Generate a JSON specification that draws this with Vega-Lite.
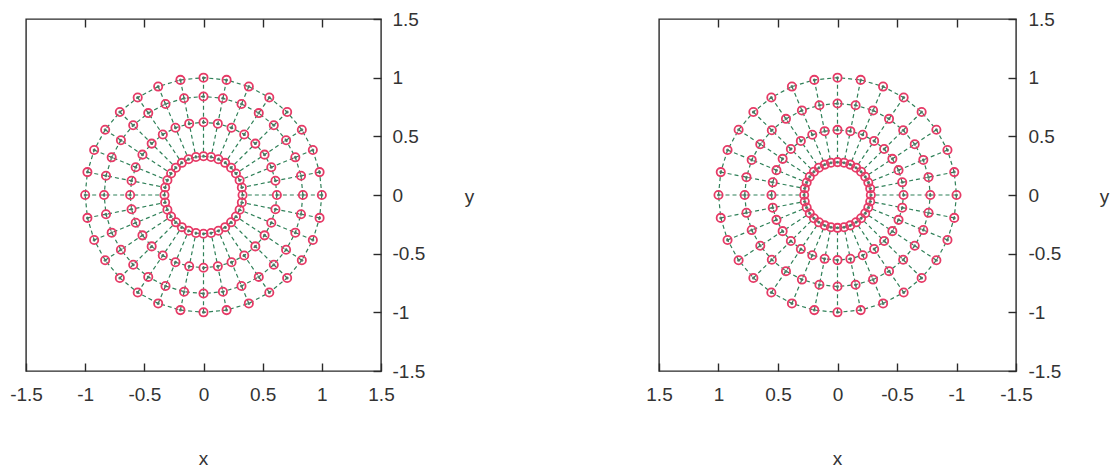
{
  "$schema": "https://vega.github.io/schema/vega-lite/v6.json",
  "background": "white",
  "padding": {"left": 8, "top": 9, "right": 5, "bottom": 5},
  "bounds": "flush",
  "spacing": 278,
  "config": {
    "view": {"stroke": "#2a2a2a", "strokeWidth": 1.4},
    "font": "Liberation Sans",
    "axis": {
      "labelFont": "Liberation Sans",
      "labelFontSize": 19,
      "labelColor": "#333333",
      "titleFont": "Liberation Sans",
      "titleFontSize": 19,
      "titleFontWeight": "normal",
      "titleColor": "#333333",
      "grid": false,
      "domain": false,
      "tickColor": "#2a2a2a",
      "tickWidth": 1.4,
      "tickSize": -8,
      "labelFlush": false,
      "labelOverlap": false
    }
  },
  "datasets": {
    "left": [
      {"r":1,"k":0,"x":1,"y":0},{"r":1,"k":1,"x":0.981,"y":0.195},{"r":1,"k":2,"x":0.924,"y":0.383},{"r":1,"k":3,"x":0.831,"y":0.556},
      {"r":1,"k":4,"x":0.707,"y":0.707},{"r":1,"k":5,"x":0.556,"y":0.831},{"r":1,"k":6,"x":0.383,"y":0.924},{"r":1,"k":7,"x":0.195,"y":0.981},
      {"r":1,"k":8,"x":0,"y":1},{"r":1,"k":9,"x":-0.195,"y":0.981},{"r":1,"k":10,"x":-0.383,"y":0.924},{"r":1,"k":11,"x":-0.556,"y":0.831},
      {"r":1,"k":12,"x":-0.707,"y":0.707},{"r":1,"k":13,"x":-0.831,"y":0.556},{"r":1,"k":14,"x":-0.924,"y":0.383},{"r":1,"k":15,"x":-0.981,"y":0.195},
      {"r":1,"k":16,"x":-1,"y":0},{"r":1,"k":17,"x":-0.981,"y":-0.195},{"r":1,"k":18,"x":-0.924,"y":-0.383},{"r":1,"k":19,"x":-0.831,"y":-0.556},
      {"r":1,"k":20,"x":-0.707,"y":-0.707},{"r":1,"k":21,"x":-0.556,"y":-0.831},{"r":1,"k":22,"x":-0.383,"y":-0.924},{"r":1,"k":23,"x":-0.195,"y":-0.981},
      {"r":1,"k":24,"x":0,"y":-1},{"r":1,"k":25,"x":0.195,"y":-0.981},{"r":1,"k":26,"x":0.383,"y":-0.924},{"r":1,"k":27,"x":0.556,"y":-0.831},
      {"r":1,"k":28,"x":0.707,"y":-0.707},{"r":1,"k":29,"x":0.831,"y":-0.556},{"r":1,"k":30,"x":0.924,"y":-0.383},{"r":1,"k":31,"x":0.981,"y":-0.195},

      {"r":2,"k":0,"x":0.84,"y":0},{"r":2,"k":1,"x":0.824,"y":0.164},{"r":2,"k":2,"x":0.776,"y":0.321},{"r":2,"k":3,"x":0.698,"y":0.467},
      {"r":2,"k":4,"x":0.594,"y":0.594},{"r":2,"k":5,"x":0.467,"y":0.698},{"r":2,"k":6,"x":0.321,"y":0.776},{"r":2,"k":7,"x":0.164,"y":0.824},
      {"r":2,"k":8,"x":0,"y":0.84},{"r":2,"k":9,"x":-0.164,"y":0.824},{"r":2,"k":10,"x":-0.321,"y":0.776},{"r":2,"k":11,"x":-0.467,"y":0.698},
      {"r":2,"k":12,"x":-0.594,"y":0.594},{"r":2,"k":13,"x":-0.698,"y":0.467},{"r":2,"k":14,"x":-0.776,"y":0.321},{"r":2,"k":15,"x":-0.824,"y":0.164},
      {"r":2,"k":16,"x":-0.84,"y":0},{"r":2,"k":17,"x":-0.824,"y":-0.164},{"r":2,"k":18,"x":-0.776,"y":-0.321},{"r":2,"k":19,"x":-0.698,"y":-0.467},
      {"r":2,"k":20,"x":-0.594,"y":-0.594},{"r":2,"k":21,"x":-0.467,"y":-0.698},{"r":2,"k":22,"x":-0.321,"y":-0.776},{"r":2,"k":23,"x":-0.164,"y":-0.824},
      {"r":2,"k":24,"x":0,"y":-0.84},{"r":2,"k":25,"x":0.164,"y":-0.824},{"r":2,"k":26,"x":0.321,"y":-0.776},{"r":2,"k":27,"x":0.467,"y":-0.698},
      {"r":2,"k":28,"x":0.594,"y":-0.594},{"r":2,"k":29,"x":0.698,"y":-0.467},{"r":2,"k":30,"x":0.776,"y":-0.321},{"r":2,"k":31,"x":0.824,"y":-0.164},

      {"r":3,"k":0,"x":0.62,"y":0},{"r":3,"k":1,"x":0.608,"y":0.121},{"r":3,"k":2,"x":0.573,"y":0.237},{"r":3,"k":3,"x":0.516,"y":0.344},
      {"r":3,"k":4,"x":0.438,"y":0.438},{"r":3,"k":5,"x":0.344,"y":0.516},{"r":3,"k":6,"x":0.237,"y":0.573},{"r":3,"k":7,"x":0.121,"y":0.608},
      {"r":3,"k":8,"x":0,"y":0.62},{"r":3,"k":9,"x":-0.121,"y":0.608},{"r":3,"k":10,"x":-0.237,"y":0.573},{"r":3,"k":11,"x":-0.344,"y":0.516},
      {"r":3,"k":12,"x":-0.438,"y":0.438},{"r":3,"k":13,"x":-0.516,"y":0.344},{"r":3,"k":14,"x":-0.573,"y":0.237},{"r":3,"k":15,"x":-0.608,"y":0.121},
      {"r":3,"k":16,"x":-0.62,"y":0},{"r":3,"k":17,"x":-0.608,"y":-0.121},{"r":3,"k":18,"x":-0.573,"y":-0.237},{"r":3,"k":19,"x":-0.516,"y":-0.344},
      {"r":3,"k":20,"x":-0.438,"y":-0.438},{"r":3,"k":21,"x":-0.344,"y":-0.516},{"r":3,"k":22,"x":-0.237,"y":-0.573},{"r":3,"k":23,"x":-0.121,"y":-0.608},
      {"r":3,"k":24,"x":0,"y":-0.62},{"r":3,"k":25,"x":0.121,"y":-0.608},{"r":3,"k":26,"x":0.237,"y":-0.573},{"r":3,"k":27,"x":0.344,"y":-0.516},
      {"r":3,"k":28,"x":0.438,"y":-0.438},{"r":3,"k":29,"x":0.516,"y":-0.344},{"r":3,"k":30,"x":0.573,"y":-0.237},{"r":3,"k":31,"x":0.608,"y":-0.121},

      {"r":4,"k":0,"x":0.33,"y":0},{"r":4,"k":1,"x":0.324,"y":0.064},{"r":4,"k":2,"x":0.305,"y":0.126},{"r":4,"k":3,"x":0.274,"y":0.183},
      {"r":4,"k":4,"x":0.233,"y":0.233},{"r":4,"k":5,"x":0.183,"y":0.274},{"r":4,"k":6,"x":0.126,"y":0.305},{"r":4,"k":7,"x":0.064,"y":0.324},
      {"r":4,"k":8,"x":0,"y":0.33},{"r":4,"k":9,"x":-0.064,"y":0.324},{"r":4,"k":10,"x":-0.126,"y":0.305},{"r":4,"k":11,"x":-0.183,"y":0.274},
      {"r":4,"k":12,"x":-0.233,"y":0.233},{"r":4,"k":13,"x":-0.274,"y":0.183},{"r":4,"k":14,"x":-0.305,"y":0.126},{"r":4,"k":15,"x":-0.324,"y":0.064},
      {"r":4,"k":16,"x":-0.33,"y":0},{"r":4,"k":17,"x":-0.324,"y":-0.064},{"r":4,"k":18,"x":-0.305,"y":-0.126},{"r":4,"k":19,"x":-0.274,"y":-0.183},
      {"r":4,"k":20,"x":-0.233,"y":-0.233},{"r":4,"k":21,"x":-0.183,"y":-0.274},{"r":4,"k":22,"x":-0.126,"y":-0.305},{"r":4,"k":23,"x":-0.064,"y":-0.324},
      {"r":4,"k":24,"x":0,"y":-0.33},{"r":4,"k":25,"x":0.064,"y":-0.324},{"r":4,"k":26,"x":0.126,"y":-0.305},{"r":4,"k":27,"x":0.183,"y":-0.274},
      {"r":4,"k":28,"x":0.233,"y":-0.233},{"r":4,"k":29,"x":0.274,"y":-0.183},{"r":4,"k":30,"x":0.305,"y":-0.126},{"r":4,"k":31,"x":0.324,"y":-0.064}
    ],
    "right": [
      {"r":1,"k":0,"x":1,"y":0},{"r":1,"k":1,"x":0.981,"y":0.195},{"r":1,"k":2,"x":0.924,"y":0.383},{"r":1,"k":3,"x":0.831,"y":0.556},
      {"r":1,"k":4,"x":0.707,"y":0.707},{"r":1,"k":5,"x":0.556,"y":0.831},{"r":1,"k":6,"x":0.383,"y":0.924},{"r":1,"k":7,"x":0.195,"y":0.981},
      {"r":1,"k":8,"x":0,"y":1},{"r":1,"k":9,"x":-0.195,"y":0.981},{"r":1,"k":10,"x":-0.383,"y":0.924},{"r":1,"k":11,"x":-0.556,"y":0.831},
      {"r":1,"k":12,"x":-0.707,"y":0.707},{"r":1,"k":13,"x":-0.831,"y":0.556},{"r":1,"k":14,"x":-0.924,"y":0.383},{"r":1,"k":15,"x":-0.981,"y":0.195},
      {"r":1,"k":16,"x":-1,"y":0},{"r":1,"k":17,"x":-0.981,"y":-0.195},{"r":1,"k":18,"x":-0.924,"y":-0.383},{"r":1,"k":19,"x":-0.831,"y":-0.556},
      {"r":1,"k":20,"x":-0.707,"y":-0.707},{"r":1,"k":21,"x":-0.556,"y":-0.831},{"r":1,"k":22,"x":-0.383,"y":-0.924},{"r":1,"k":23,"x":-0.195,"y":-0.981},
      {"r":1,"k":24,"x":0,"y":-1},{"r":1,"k":25,"x":0.195,"y":-0.981},{"r":1,"k":26,"x":0.383,"y":-0.924},{"r":1,"k":27,"x":0.556,"y":-0.831},
      {"r":1,"k":28,"x":0.707,"y":-0.707},{"r":1,"k":29,"x":0.831,"y":-0.556},{"r":1,"k":30,"x":0.924,"y":-0.383},{"r":1,"k":31,"x":0.981,"y":-0.195},

      {"r":2,"k":0,"x":0.78,"y":0},{"r":2,"k":1,"x":0.765,"y":0.152},{"r":2,"k":2,"x":0.721,"y":0.299},{"r":2,"k":3,"x":0.649,"y":0.433},
      {"r":2,"k":4,"x":0.552,"y":0.552},{"r":2,"k":5,"x":0.433,"y":0.649},{"r":2,"k":6,"x":0.299,"y":0.721},{"r":2,"k":7,"x":0.152,"y":0.765},
      {"r":2,"k":8,"x":0,"y":0.78},{"r":2,"k":9,"x":-0.152,"y":0.765},{"r":2,"k":10,"x":-0.299,"y":0.721},{"r":2,"k":11,"x":-0.433,"y":0.649},
      {"r":2,"k":12,"x":-0.552,"y":0.552},{"r":2,"k":13,"x":-0.649,"y":0.433},{"r":2,"k":14,"x":-0.721,"y":0.299},{"r":2,"k":15,"x":-0.765,"y":0.152},
      {"r":2,"k":16,"x":-0.78,"y":0},{"r":2,"k":17,"x":-0.765,"y":-0.152},{"r":2,"k":18,"x":-0.721,"y":-0.299},{"r":2,"k":19,"x":-0.649,"y":-0.433},
      {"r":2,"k":20,"x":-0.552,"y":-0.552},{"r":2,"k":21,"x":-0.433,"y":-0.649},{"r":2,"k":22,"x":-0.299,"y":-0.721},{"r":2,"k":23,"x":-0.152,"y":-0.765},
      {"r":2,"k":24,"x":0,"y":-0.78},{"r":2,"k":25,"x":0.152,"y":-0.765},{"r":2,"k":26,"x":0.299,"y":-0.721},{"r":2,"k":27,"x":0.433,"y":-0.649},
      {"r":2,"k":28,"x":0.552,"y":-0.552},{"r":2,"k":29,"x":0.649,"y":-0.433},{"r":2,"k":30,"x":0.721,"y":-0.299},{"r":2,"k":31,"x":0.765,"y":-0.152},

      {"r":3,"k":0,"x":0.555,"y":0},{"r":3,"k":1,"x":0.544,"y":0.108},{"r":3,"k":2,"x":0.513,"y":0.212},{"r":3,"k":3,"x":0.461,"y":0.308},
      {"r":3,"k":4,"x":0.392,"y":0.392},{"r":3,"k":5,"x":0.308,"y":0.461},{"r":3,"k":6,"x":0.212,"y":0.513},{"r":3,"k":7,"x":0.108,"y":0.544},
      {"r":3,"k":8,"x":0,"y":0.555},{"r":3,"k":9,"x":-0.108,"y":0.544},{"r":3,"k":10,"x":-0.212,"y":0.513},{"r":3,"k":11,"x":-0.308,"y":0.461},
      {"r":3,"k":12,"x":-0.392,"y":0.392},{"r":3,"k":13,"x":-0.461,"y":0.308},{"r":3,"k":14,"x":-0.513,"y":0.212},{"r":3,"k":15,"x":-0.544,"y":0.108},
      {"r":3,"k":16,"x":-0.555,"y":0},{"r":3,"k":17,"x":-0.544,"y":-0.108},{"r":3,"k":18,"x":-0.513,"y":-0.212},{"r":3,"k":19,"x":-0.461,"y":-0.308},
      {"r":3,"k":20,"x":-0.392,"y":-0.392},{"r":3,"k":21,"x":-0.308,"y":-0.461},{"r":3,"k":22,"x":-0.212,"y":-0.513},{"r":3,"k":23,"x":-0.108,"y":-0.544},
      {"r":3,"k":24,"x":0,"y":-0.555},{"r":3,"k":25,"x":0.108,"y":-0.544},{"r":3,"k":26,"x":0.212,"y":-0.513},{"r":3,"k":27,"x":0.308,"y":-0.461},
      {"r":3,"k":28,"x":0.392,"y":-0.392},{"r":3,"k":29,"x":0.461,"y":-0.308},{"r":3,"k":30,"x":0.513,"y":-0.212},{"r":3,"k":31,"x":0.544,"y":-0.108},

      {"r":4,"k":0,"x":0.28,"y":0},{"r":4,"k":1,"x":0.275,"y":0.055},{"r":4,"k":2,"x":0.259,"y":0.107},{"r":4,"k":3,"x":0.233,"y":0.156},
      {"r":4,"k":4,"x":0.198,"y":0.198},{"r":4,"k":5,"x":0.156,"y":0.233},{"r":4,"k":6,"x":0.107,"y":0.259},{"r":4,"k":7,"x":0.055,"y":0.275},
      {"r":4,"k":8,"x":0,"y":0.28},{"r":4,"k":9,"x":-0.055,"y":0.275},{"r":4,"k":10,"x":-0.107,"y":0.259},{"r":4,"k":11,"x":-0.156,"y":0.233},
      {"r":4,"k":12,"x":-0.198,"y":0.198},{"r":4,"k":13,"x":-0.233,"y":0.156},{"r":4,"k":14,"x":-0.259,"y":0.107},{"r":4,"k":15,"x":-0.275,"y":0.055},
      {"r":4,"k":16,"x":-0.28,"y":0},{"r":4,"k":17,"x":-0.275,"y":-0.055},{"r":4,"k":18,"x":-0.259,"y":-0.107},{"r":4,"k":19,"x":-0.233,"y":-0.156},
      {"r":4,"k":20,"x":-0.198,"y":-0.198},{"r":4,"k":21,"x":-0.156,"y":-0.233},{"r":4,"k":22,"x":-0.107,"y":-0.259},{"r":4,"k":23,"x":-0.055,"y":-0.275},
      {"r":4,"k":24,"x":0,"y":-0.28},{"r":4,"k":25,"x":0.055,"y":-0.275},{"r":4,"k":26,"x":0.107,"y":-0.259},{"r":4,"k":27,"x":0.156,"y":-0.233},
      {"r":4,"k":28,"x":0.198,"y":-0.198},{"r":4,"k":29,"x":0.233,"y":-0.156},{"r":4,"k":30,"x":0.259,"y":-0.107},{"r":4,"k":31,"x":0.275,"y":-0.055}
    ]
  },
  "hconcat": [
    {
      "width": 355,
      "height": 352,
      "data": {"name": "left"},
      "layer": [
        {
          "encoding": {
            "x": {"field": "x", "type": "quantitative",
              "scale": {"domain": [-1.5, 1.5], "nice": false, "zero": false},
              "axis": {"orient": "bottom", "values": [-1.5, -1, -0.5, 0, 0.5, 1, 1.5], "labelExpr": "'' + datum.value",
                "labelPadding": 22, "title": "x", "titleX": 177, "titleY": 87, "titleBaseline": "middle", "titleAlign": "center"}},
            "y": {"field": "y", "type": "quantitative",
              "scale": {"domain": [-1.5, 1.5], "nice": false, "zero": false},
              "axis": {"orient": "right", "values": [-1.5, -1, -0.5, 0, 0.5, 1, 1.5], "labelExpr": "'' + datum.value",
                "labelPadding": 19, "labelAlign": "left", "title": "y", "titleAngle": 0, "titleX": 88, "titleY": 177,
                "titleBaseline": "middle", "titleAlign": "center"}}
          },
          "layer": [
            {"mark": {"type": "line", "interpolate": "linear-closed", "stroke": "#2f8058", "strokeWidth": 1.2, "strokeDash": [4, 3]},
             "encoding": {"detail": {"field": "r", "type": "nominal"}, "order": {"field": "k", "type": "quantitative"}}},
            {"mark": {"type": "line", "stroke": "#2f8058", "strokeWidth": 1.2, "strokeDash": [4, 3]},
             "encoding": {"detail": {"field": "k", "type": "nominal"}, "order": {"field": "r", "type": "quantitative"}}},
            {"mark": {"type": "point", "shape": "circle", "filled": false, "stroke": "#e63a66", "strokeWidth": 1.8, "size": 68, "opacity": 1}},
            {"mark": {"type": "point", "shape": "circle", "filled": true, "fill": "#4a7260", "size": 9, "opacity": 0.9}}
          ]
        },
        {
          "mark": {"type": "point", "opacity": 0},
          "encoding": {
            "x": {"field": "x", "type": "quantitative",
              "scale": {"domain": [-1.5, 1.5], "nice": false, "zero": false},
              "axis": {"orient": "top", "values": [-1, -0.5, 0, 0.5, 1], "labels": false, "title": null}}
          }
        }
      ],
      "resolve": {"axis": {"x": "independent"}}
    },
    {
      "width": 357,
      "height": 352,
      "data": {"name": "right"},
      "layer": [
        {
          "encoding": {
            "x": {"field": "x", "type": "quantitative",
              "scale": {"domain": [-1.5, 1.5], "nice": false, "zero": false, "reverse": true},
              "axis": {"orient": "bottom", "values": [-1.5, -1, -0.5, 0, 0.5, 1, 1.5], "labelExpr": "'' + datum.value",
                "labelPadding": 22, "title": "x", "titleX": 178, "titleY": 87, "titleBaseline": "middle", "titleAlign": "center"}},
            "y": {"field": "y", "type": "quantitative",
              "scale": {"domain": [-1.5, 1.5], "nice": false, "zero": false},
              "axis": {"orient": "right", "values": [-1.5, -1, -0.5, 0, 0.5, 1, 1.5], "labelExpr": "'' + datum.value",
                "labelPadding": 20, "labelAlign": "left", "title": "y", "titleAngle": 0, "titleX": 88, "titleY": 177,
                "titleBaseline": "middle", "titleAlign": "center"}}
          },
          "layer": [
            {"mark": {"type": "line", "interpolate": "linear-closed", "stroke": "#2f8058", "strokeWidth": 1.2, "strokeDash": [4, 3]},
             "encoding": {"detail": {"field": "r", "type": "nominal"}, "order": {"field": "k", "type": "quantitative"}}},
            {"mark": {"type": "line", "stroke": "#2f8058", "strokeWidth": 1.2, "strokeDash": [4, 3]},
             "encoding": {"detail": {"field": "k", "type": "nominal"}, "order": {"field": "r", "type": "quantitative"}}},
            {"mark": {"type": "point", "shape": "circle", "filled": false, "stroke": "#e63a66", "strokeWidth": 1.8, "size": 68, "opacity": 1}},
            {"mark": {"type": "point", "shape": "circle", "filled": true, "fill": "#4a7260", "size": 9, "opacity": 0.9}}
          ]
        },
        {
          "mark": {"type": "point", "opacity": 0},
          "encoding": {
            "x": {"field": "x", "type": "quantitative",
              "scale": {"domain": [-1.5, 1.5], "nice": false, "zero": false, "reverse": true},
              "axis": {"orient": "top", "values": [-1, -0.5, 0, 0.5, 1], "labels": false, "title": null}}
          }
        }
      ],
      "resolve": {"axis": {"x": "independent"}}
    }
  ]
}
